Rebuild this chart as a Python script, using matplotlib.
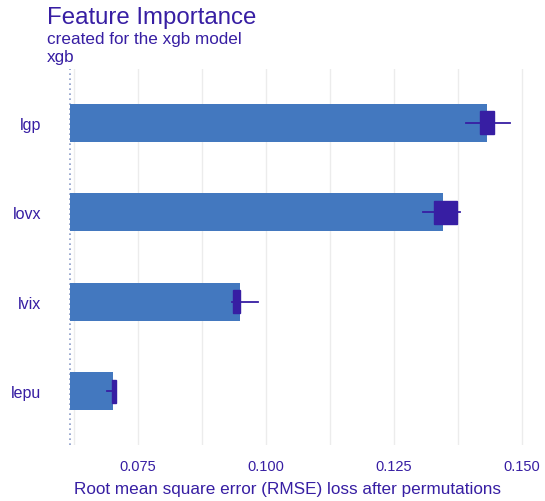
import matplotlib
matplotlib.use("Agg")
import matplotlib.pyplot as plt
from matplotlib.ticker import MultipleLocator

plt.rcParams['font.family'] = ['Liberation Sans', 'DejaVu Sans']

# permutation importance for the xgb model
features = ['lepu', 'lvix', 'lovx', 'lgp']
baseline = 0.0617
mean_loss = [0.0700, 0.0948, 0.1346, 0.1431]
box_q1 = [0.0699, 0.0936, 0.1328, 0.1417]
box_med = [0.0703, 0.0942, 0.1345, 0.1432]
box_q3 = [0.0707, 0.0949, 0.1372, 0.1446]
whisk_lo = [0.0689, 0.0933, 0.1306, 0.1391]
whisk_hi = [0.0707, 0.0985, 0.1378, 0.1477]
xticks = [0.075, 0.100, 0.125, 0.150]

bar_col = '#4378bf'
box_col = '#371ea3'
text_col = '#371ea3'

W, H = 545, 502
fig = plt.figure(figsize=(W / 100, H / 100), dpi=100)
ax = fig.add_axes([65 / W, 1 - 446 / H, (540 - 65) / W, (446 - 70) / H])

ypos = list(range(1, len(features) + 1))
widths = [v - baseline for v in mean_loss]
ax.barh(ypos, widths, left=baseline, height=0.42, color=bar_col, zorder=2)

stats = []
for i in range(len(features)):
    stats.append(dict(q1=box_q1[i], med=box_med[i], q3=box_q3[i],
                      whislo=whisk_lo[i], whishi=whisk_hi[i], fliers=[]))
ax.bxp(stats, positions=ypos, vert=False, widths=0.26, showcaps=False,
       patch_artist=True,
       boxprops=dict(facecolor=box_col, edgecolor=box_col, linewidth=1),
       medianprops=dict(color=box_col, linewidth=1),
       whiskerprops=dict(color=box_col, linewidth=1.3),
       zorder=3)

ax.axvline(baseline, color='#8a9bc8', linestyle=(0, (1, 2)), linewidth=1.2, zorder=1)

ax.set_xlim(0.0607, 0.1535)
ax.set_ylim(0.4, 4.6)
ax.xaxis.set_minor_locator(MultipleLocator(0.0125))
ax.set_xticks(xticks)
ax.set_xticklabels([f'{t:.3f}' for t in xticks])
ax.set_yticks(ypos)
ax.set_yticklabels(features)
ax.grid(True, axis='x', which='both', color='#ececec', linewidth=1, zorder=0)
ax.set_axisbelow(True)
for s in ax.spines.values():
    s.set_visible(False)
ax.tick_params(which='both', length=0, colors=text_col)
ax.tick_params(axis='x', labelsize=10.5, pad=10)
ax.tick_params(axis='y', labelsize=11.5, pad=17)

fig.text(288 / W, 1 - 490 / H,
         'Root mean square error (RMSE) loss after permutations',
         color=text_col, fontsize=12.3, va='center', ha='center')

fig.text(47 / W, 1 - 7 / H, 'Feature Importance', color=text_col,
         fontsize=17.3, va='top', ha='left')
fig.text(47 / W, 1 - 32 / H, 'created for the xgb model', color=text_col,
         fontsize=12.3, va='top', ha='left')
fig.text(47 / W, 1 - 50 / H, 'xgb', color=text_col,
         fontsize=12.3, va='top', ha='left')

fig.savefig('out.png', dpi=100, facecolor='white')
